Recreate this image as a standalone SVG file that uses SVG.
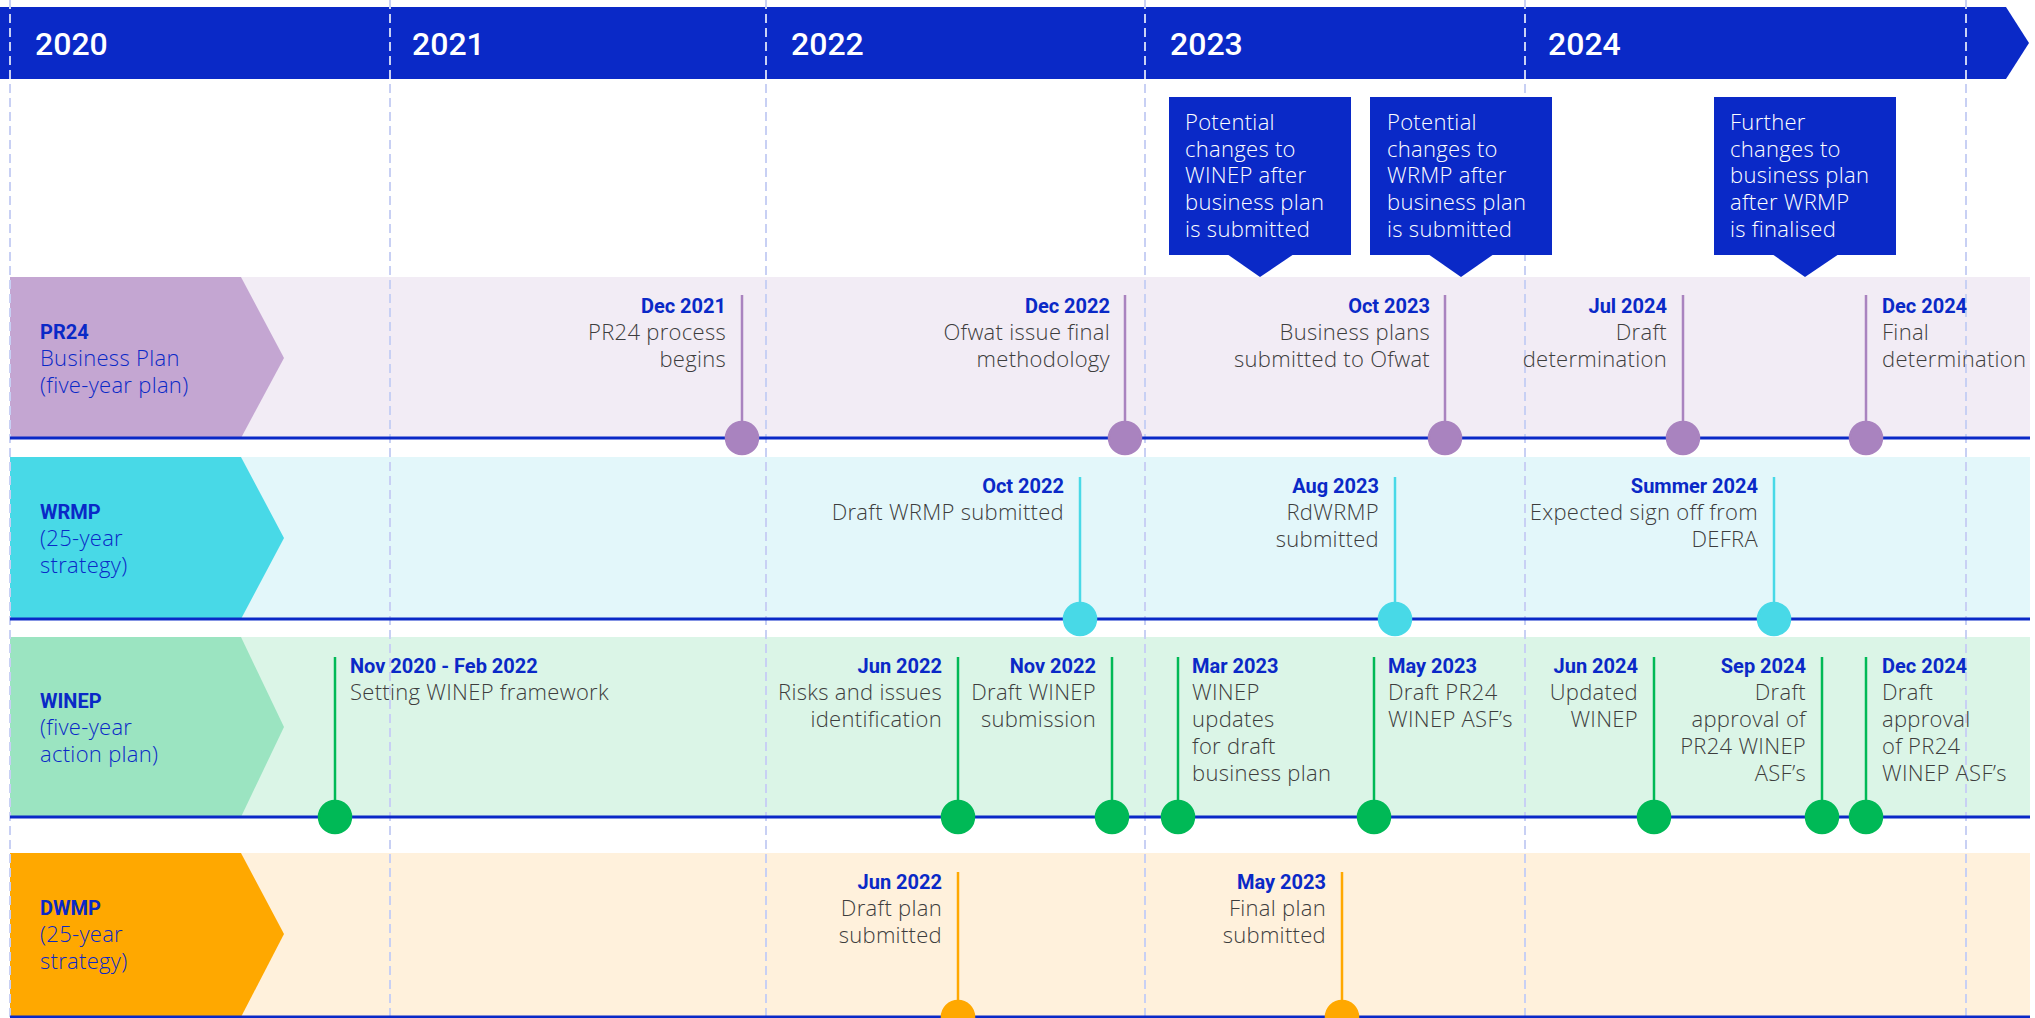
<svg xmlns="http://www.w3.org/2000/svg" width="2035" height="1018" viewBox="0 0 2035 1018">
<style>
.yr{font-family:Roboto,'Liberation Sans',sans-serif;font-weight:500;font-size:32px;fill:#fff}
.dt{font-family:Roboto,'Liberation Sans',sans-serif;font-weight:700;font-size:20px;fill:#0a29c7}
.ds{font-family:'Open Sans','Liberation Sans',sans-serif;font-weight:300;font-size:22px;letter-spacing:0.3px;fill:#3d3d3d}
.bx{font-family:'Open Sans','Liberation Sans',sans-serif;font-weight:300;font-size:22px;letter-spacing:0.3px;fill:#fff}
.lt{font-family:Roboto,'Liberation Sans',sans-serif;font-weight:700;font-size:20px;fill:#0a29c7}
.ls{font-family:'Open Sans','Liberation Sans',sans-serif;font-weight:300;font-size:22px;letter-spacing:0.3px;fill:#0a29c7}
.end{text-anchor:end}
.grid{stroke:#c8d0f4;stroke-width:2;stroke-dasharray:9 5}
.base{stroke:#0a29c7;stroke-width:3}
.pr{stroke:#a983bf;stroke-width:2.5;fill:#a983bf}
.wr{stroke:#48d9e7;stroke-width:2.5;fill:#48d9e7}
.wi{stroke:#00b956;stroke-width:2.5;fill:#00b956}
.dw{stroke:#ffa800;stroke-width:2.5;fill:#ffa800}
.box{fill:#0a29c7}
</style>

<g id="header">
<polygon points="0,7 2006,7 2029,43 2006,79 0,79" fill="#0a29c7"/>
<text class="yr" x="35" y="55">2020</text>
<text class="yr" x="412" y="55">2021</text>
<text class="yr" x="791" y="55">2022</text>
<text class="yr" x="1170" y="55">2023</text>
<text class="yr" x="1548" y="55">2024</text>
</g>

<g id="lane-pr24">
<rect x="10" y="277" width="2020" height="161" fill="#f2ecf5"/>
<polygon points="10,277 241,277 284,358 241,438 10,438" fill="#c4a6d2"/>
<text class="lt" x="40" y="339">PR24</text>
<text class="ls" x="40" y="366">Business Plan</text>
<text class="ls" x="40" y="393">(five-year plan)</text>
</g>
<g id="lane-wrmp">
<rect x="10" y="457" width="2020" height="162" fill="#e3f7fa"/>
<polygon points="10,457 241,457 284,538 241,619 10,619" fill="#48d9e7"/>
<text class="lt" x="40" y="519">WRMP</text>
<text class="ls" x="40" y="546">(25-year</text>
<text class="ls" x="40" y="573">strategy)</text>
</g>
<g id="lane-winep">
<rect x="10" y="637" width="2020" height="180" fill="#dbf5e7"/>
<polygon points="10,637 241,637 284,727 241,817 10,817" fill="#9be4c1"/>
<text class="lt" x="40" y="708">WINEP</text>
<text class="ls" x="40" y="735">(five-year</text>
<text class="ls" x="40" y="762">action plan)</text>
</g>
<g id="lane-dwmp">
<rect x="10" y="853" width="2020" height="165" fill="#fff1dc"/>
<polygon points="10,853 241,853 284,934 241,1017 10,1017" fill="#ffa800"/>
<text class="lt" x="40" y="915">DWMP</text>
<text class="ls" x="40" y="942">(25-year</text>
<text class="ls" x="40" y="969">strategy)</text>
</g>

<g id="gridlines">
<line class="grid" x1="10" y1="0" x2="10" y2="1018"/>
<line class="grid" x1="390" y1="0" x2="390" y2="1018"/>
<line class="grid" x1="766" y1="0" x2="766" y2="1018"/>
<line class="grid" x1="1145" y1="0" x2="1145" y2="1018"/>
<line class="grid" x1="1525" y1="0" x2="1525" y2="1018"/>
<line class="grid" x1="1966" y1="0" x2="1966" y2="1018"/>
</g>

<g id="baselines">
<line class="base" x1="10" y1="438" x2="2030" y2="438"/>
<line class="base" x1="10" y1="619" x2="2030" y2="619"/>
<line class="base" x1="10" y1="817" x2="2030" y2="817"/>
<line class="base" x1="10" y1="1017" x2="2030" y2="1017"/>
</g>

<g id="callout-winep">
<rect class="box" x="1169" y="97" width="182" height="158"/>
<polygon class="box" points="1227,254 1294,254 1260,277"/>
<text class="bx" x="1185" y="130">Potential</text>
<text class="bx" x="1185" y="157">changes to</text>
<text class="bx" x="1185" y="183">WINEP after</text>
<text class="bx" x="1185" y="210">business plan</text>
<text class="bx" x="1185" y="237">is submitted</text>
</g>
<g id="callout-wrmp">
<rect class="box" x="1370" y="97" width="182" height="158"/>
<polygon class="box" points="1428,254 1494,254 1461,277"/>
<text class="bx" x="1387" y="130">Potential</text>
<text class="bx" x="1387" y="157">changes to</text>
<text class="bx" x="1387" y="183">WRMP after</text>
<text class="bx" x="1387" y="210">business plan</text>
<text class="bx" x="1387" y="237">is submitted</text>
</g>
<g id="callout-bp">
<rect class="box" x="1714" y="97" width="182" height="158"/>
<polygon class="box" points="1772,254 1839,254 1805,277"/>
<text class="bx" x="1730" y="130">Further</text>
<text class="bx" x="1730" y="157">changes to</text>
<text class="bx" x="1730" y="183">business plan</text>
<text class="bx" x="1730" y="210">after WRMP</text>
<text class="bx" x="1730" y="237">is finalised</text>
</g>

<g id="connectors">
<line class="pr" x1="742" y1="295" x2="742" y2="438"/>
<line class="pr" x1="1125" y1="295" x2="1125" y2="438"/>
<line class="pr" x1="1445" y1="295" x2="1445" y2="438"/>
<line class="pr" x1="1683" y1="295" x2="1683" y2="438"/>
<line class="pr" x1="1866" y1="295" x2="1866" y2="438"/>
<line class="wr" x1="1080" y1="477" x2="1080" y2="619"/>
<line class="wr" x1="1395" y1="477" x2="1395" y2="619"/>
<line class="wr" x1="1774" y1="477" x2="1774" y2="619"/>
<line class="wi" x1="335" y1="657" x2="335" y2="817"/>
<line class="wi" x1="958" y1="657" x2="958" y2="817"/>
<line class="wi" x1="1112" y1="657" x2="1112" y2="817"/>
<line class="wi" x1="1178" y1="657" x2="1178" y2="817"/>
<line class="wi" x1="1374" y1="657" x2="1374" y2="817"/>
<line class="wi" x1="1654" y1="657" x2="1654" y2="817"/>
<line class="wi" x1="1822" y1="657" x2="1822" y2="817"/>
<line class="wi" x1="1866" y1="657" x2="1866" y2="817"/>
<line class="dw" x1="958" y1="872" x2="958" y2="1017"/>
<line class="dw" x1="1342" y1="872" x2="1342" y2="1017"/>
</g>

<g id="pr24-dec2021"><circle class="pr" cx="742" cy="438" r="16"/>
<text class="dt end" x="726" y="313">Dec 2021</text><text class="ds end" x="726" y="340">PR24 process</text><text class="ds end" x="726" y="367">begins</text></g>
<g id="pr24-dec2022"><circle class="pr" cx="1125" cy="438" r="16"/>
<text class="dt end" x="1110" y="313">Dec 2022</text><text class="ds end" x="1110" y="340">Ofwat issue final</text><text class="ds end" x="1110" y="367">methodology</text></g>
<g id="pr24-oct2023"><circle class="pr" cx="1445" cy="438" r="16"/>
<text class="dt end" x="1430" y="313">Oct 2023</text><text class="ds end" x="1430" y="340">Business plans</text><text class="ds end" x="1430" y="367">submitted to Ofwat</text></g>
<g id="pr24-jul2024"><circle class="pr" cx="1683" cy="438" r="16"/>
<text class="dt end" x="1667" y="313">Jul 2024</text><text class="ds end" x="1667" y="340">Draft</text><text class="ds end" x="1667" y="367">determination</text></g>
<g id="pr24-dec2024"><circle class="pr" cx="1866" cy="438" r="16"/>
<text class="dt" x="1882" y="313">Dec 2024</text><text class="ds" x="1882" y="340">Final</text><text class="ds" x="1882" y="367">determination</text></g>

<g id="wrmp-oct2022"><circle class="wr" cx="1080" cy="619" r="16"/>
<text class="dt end" x="1064" y="493">Oct 2022</text><text class="ds end" x="1064" y="520">Draft WRMP submitted</text></g>
<g id="wrmp-aug2023"><circle class="wr" cx="1395" cy="619" r="16"/>
<text class="dt end" x="1379" y="493">Aug 2023</text><text class="ds end" x="1379" y="520">RdWRMP</text><text class="ds end" x="1379" y="547">submitted</text></g>
<g id="wrmp-summer2024"><circle class="wr" cx="1774" cy="619" r="16"/>
<text class="dt end" x="1758" y="493">Summer 2024</text><text class="ds end" x="1758" y="520">Expected sign off from</text><text class="ds end" x="1758" y="547">DEFRA</text></g>

<g id="winep-nov2020"><circle class="wi" cx="335" cy="817" r="16"/>
<text class="dt" x="350" y="673">Nov 2020 - Feb 2022</text><text class="ds" x="350" y="700">Setting WINEP framework</text></g>
<g id="winep-jun2022"><circle class="wi" cx="958" cy="817" r="16"/>
<text class="dt end" x="942" y="673">Jun 2022</text><text class="ds end" x="942" y="700">Risks and issues</text><text class="ds end" x="942" y="727">identification</text></g>
<g id="winep-nov2022"><circle class="wi" cx="1112" cy="817" r="16"/>
<text class="dt end" x="1096" y="673">Nov 2022</text><text class="ds end" x="1096" y="700">Draft WINEP</text><text class="ds end" x="1096" y="727">submission</text></g>
<g id="winep-mar2023"><circle class="wi" cx="1178" cy="817" r="16"/>
<text class="dt" x="1192" y="673">Mar 2023</text><text class="ds" x="1192" y="700">WINEP</text><text class="ds" x="1192" y="727">updates</text><text class="ds" x="1192" y="754">for draft</text><text class="ds" x="1192" y="781">business plan</text></g>
<g id="winep-may2023"><circle class="wi" cx="1374" cy="817" r="16"/>
<text class="dt" x="1388" y="673">May 2023</text><text class="ds" x="1388" y="700">Draft PR24</text><text class="ds" x="1388" y="727">WINEP ASF’s</text></g>
<g id="winep-jun2024"><circle class="wi" cx="1654" cy="817" r="16"/>
<text class="dt end" x="1638" y="673">Jun 2024</text><text class="ds end" x="1638" y="700">Updated</text><text class="ds end" x="1638" y="727">WINEP</text></g>
<g id="winep-sep2024"><circle class="wi" cx="1822" cy="817" r="16"/>
<text class="dt end" x="1806" y="673">Sep 2024</text><text class="ds end" x="1806" y="700">Draft</text><text class="ds end" x="1806" y="727">approval of</text><text class="ds end" x="1806" y="754">PR24 WINEP</text><text class="ds end" x="1806" y="781">ASF’s</text></g>
<g id="winep-dec2024"><circle class="wi" cx="1866" cy="817" r="16"/>
<text class="dt" x="1882" y="673">Dec 2024</text><text class="ds" x="1882" y="700">Draft</text><text class="ds" x="1882" y="727">approval</text><text class="ds" x="1882" y="754">of PR24</text><text class="ds" x="1882" y="781">WINEP ASF’s</text></g>

<g id="dwmp-jun2022"><circle class="dw" cx="958" cy="1017" r="16"/>
<text class="dt end" x="942" y="889">Jun 2022</text><text class="ds end" x="942" y="916">Draft plan</text><text class="ds end" x="942" y="943">submitted</text></g>
<g id="dwmp-may2023"><circle class="dw" cx="1342" cy="1017" r="16"/>
<text class="dt end" x="1326" y="889">May 2023</text><text class="ds end" x="1326" y="916">Final plan</text><text class="ds end" x="1326" y="943">submitted</text></g>
</svg>
